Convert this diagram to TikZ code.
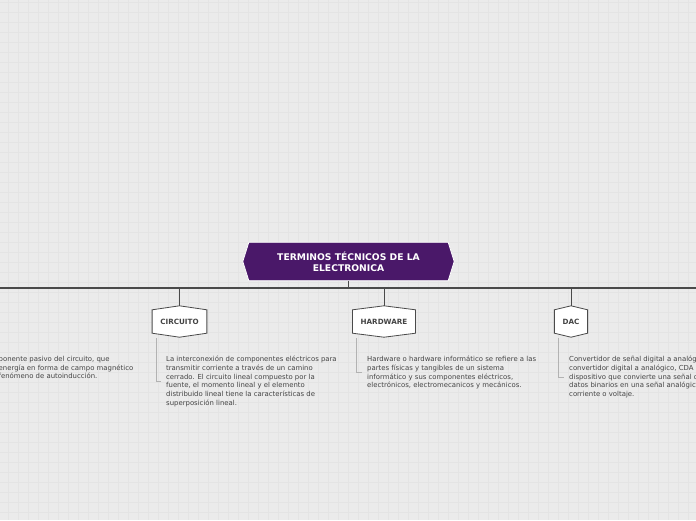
\documentclass[tikz,border=0pt]{standalone}
\usepackage{fontspec}
\setmainfont{DejaVu Sans}
\usetikzlibrary{positioning,calc,backgrounds}
\definecolor{mapbg}{HTML}{EBEBEB}
\definecolor{mapgrid}{HTML}{E4E4E4}
\definecolor{titlepurple}{HTML}{4A1869}
\definecolor{linegray}{HTML}{4A4A4A}
\definecolor{textgray}{HTML}{444444}
\tikzset{
titlebox/.style={
	minimum width=199pt,
	minimum height=38pt,
	text=white,
	align=center,
	inner sep=0pt,
	font=\fontsize{9.2}{11}\selectfont\bfseries
},
topicbox/.style={
	minimum height=23pt,
	inner xsep=8pt,
	inner ysep=0pt,
	text=textgray,
	font=\fontsize{7.2}{8}\selectfont\bfseries
},
note/.style={
	anchor=north west,
	align=left,
	inner sep=0pt,
	text=textgray,
	font=\fontsize{6.9}{8.7}\selectfont
},
mainline/.style={draw=linegray, line width=1.3pt},
branch/.style={draw=linegray, line width=0.9pt},
bracket/.style={draw=black!30, line width=0.8pt}
}

\begin{document}
\begin{tikzpicture}[x=1pt, y=-1pt]

\path[use as bounding box, clip] (0,0) rectangle (696,520);
\begin{scope}[on background layer]
\fill[mapbg] (0,0) rectangle (696,520);
\foreach \gx in {8,18,...,688} \draw[mapgrid, line width=1pt] (\gx,0) -- (\gx,520);
\foreach \gy in {2,12,...,512} \draw[mapgrid, line width=1pt] (0,\gy) -- (696,\gy);
\end{scope}

% central topic
\node (title) [titlebox] at (348.5,261.5) {TERMINOS TÉCNICOS DE LA\\ELECTRONICA};

% main topics
\node (circ) [topicbox] at (179.5,321.5) {CIRCUITO};
\node (hard) [topicbox] at (384,321.5) {HARDWARE};
\node (dac)  [topicbox] at (571,321.5) {DAC};

\begin{scope}[on background layer]
\draw[fill=titlepurple, draw=white, line width=0.8pt] (title.north west) -- (title.north east) -- ([xshift=6pt]title.east) -- (title.south east) -- (title.south west) -- ([xshift=-6pt]title.west) -- cycle;
\foreach \t in {circ,hard,dac}
	\draw[fill=white, draw=linegray, line width=0.8pt] (\t.south west) -- (\t.north west) -- ([yshift=4pt]\t.north) -- (\t.north east) -- (\t.south east) -- ([yshift=-4pt]\t.south) -- cycle;
\end{scope}

\coordinate (lineL) at (0,288);
\coordinate (lineR) at (696,288);
\draw[mainline] (lineL) -- (lineR);
\draw[branch] (title.south) -- (title.south |- lineL);
\foreach \t in {circ,hard,dac}
	\draw[branch] ([yshift=4pt]\t.north) -- (\t.north |- lineL);

% notes
\node (leftnote) [note] at (-1.5,356) {ponente pasivo del circuito, que\\energía en forma de campo magnético\\fenómeno de autoinducción.};
\node (circnote) [note] at (166,356) {La interconexión de componentes eléctricos para\\transmitir corriente a través de un camino\\cerrado. El circuito lineal compuesto por la\\fuente, el momento lineal y el elemento\\distribuido lineal tiene la características de\\superposición lineal.};
\node (hardnote) [note] at (367,356) {Hardware o hardware informático se refiere a las\\partes físicas y tangibles de un sistema\\informático y sus componentes eléctricos,\\electrónicos, electromecanicos y mecánicos.};
\node (dacnote)  [note] at (569,356) {Convertidor de señal digital a analógica\\convertidor digital a analógico, CDA\\dispositivo que convierte una señal de\\datos binarios en una señal analógica\\corriente o voltaje.};

\foreach \t/\n in {circ/circnote,hard/hardnote,dac/dacnote}
	\draw[bracket] ([xshift=4pt,yshift=-5pt]\t.south west) |- ([xshift=-5pt]\n.west);

\end{tikzpicture}
\end{document}
